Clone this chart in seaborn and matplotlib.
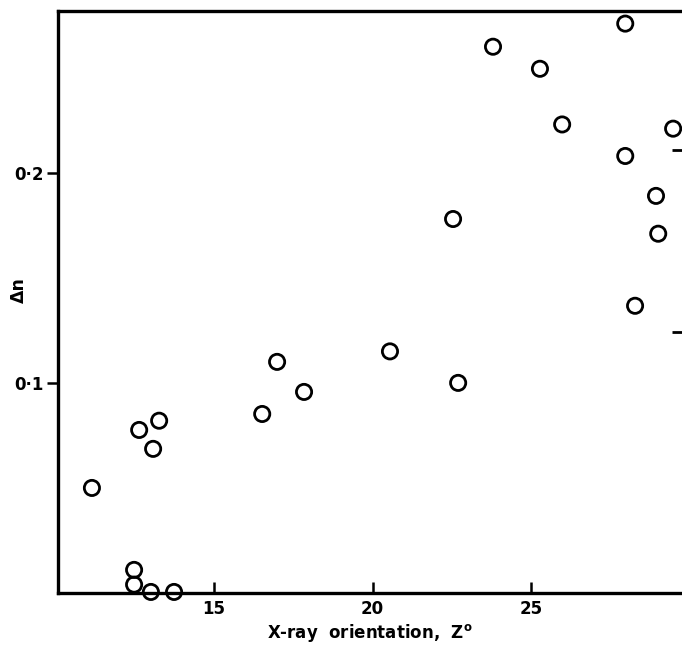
import matplotlib
matplotlib.use("Agg")
import matplotlib.pyplot as plt
import seaborn as sns
import pandas as pd

orientation = [11.15, 12.48, 12.48, 13.01, 13.74, 12.64, 13.08, 13.27, 16.52, 16.99,
               17.84, 20.55, 22.70, 22.54, 23.80, 25.28, 25.98, 27.97, 27.97, 28.94,
               29.01, 28.28, 29.48]
delta_n = [0.050, 0.011, 0.004, 0.0005, 0.0005, 0.0776, 0.0686, 0.082, 0.0852, 0.110,
           0.0957, 0.115, 0.100, 0.178, 0.260, 0.2495, 0.223, 0.271, 0.208, 0.189,
           0.171, 0.1367, 0.221]
x_ticks = [15, 20, 25]
x_tick_labels = ["15", "20", "25"]
y_ticks = [0.1, 0.2]
y_tick_labels = ["0·1", "0·2"]
right_ticks = [0.124, 0.211]

df = pd.DataFrame({"Z": orientation, "dn": delta_n})

sns.set_style("ticks")
plt.rcParams['font.family'] = ['DejaVu Sans']
plt.rcParams['font.weight'] = 'bold'
plt.rcParams['text.color'] = 'black'
plt.rcParams['axes.labelcolor'] = 'black'
plt.rcParams['xtick.color'] = 'black'
plt.rcParams['ytick.color'] = 'black'

fig = plt.figure(figsize=(6.82, 6.5), dpi=100)
ax = fig.add_axes([58/682, 57/650, 1 - 58/682, (593-11)/650])

sns.scatterplot(data=df, x="Z", y="dn", ax=ax, marker="o", s=120,
                facecolor="none", edgecolor="black", linewidth=2.0, clip_on=False)

ax.set_xlim(10.08, 29.76)
ax.set_ylim(0.0, 0.277)
ax.set_xticks(x_ticks)
ax.set_xticklabels(x_tick_labels, fontsize=12, fontweight='bold')
ax.set_yticks(y_ticks)
ax.set_yticklabels(y_tick_labels, fontsize=12, fontweight='bold')
ax.tick_params(axis='x', direction='in', length=8, width=1.8, pad=5)
ax.tick_params(axis='y', direction='out', length=8, width=1.8, pad=2)

for side in ['left', 'bottom', 'top']:
    ax.spines[side].set_linewidth(2.4)
    ax.spines[side].set_color('black')
ax.spines['right'].set_visible(False)

sec = ax.secondary_yaxis('right')
sec.set_yticks(right_ticks)
sec.set_yticklabels([])
sec.tick_params(direction='in', length=7, width=2.0)
sec.spines['right'].set_visible(False)

ax.set_xlabel("X-ray  orientation,  Z$^{\\mathbf{o}}$", fontsize=12, fontweight='bold', labelpad=3)
ax.set_ylabel("Δn", fontsize=12.5, fontweight='bold')
ax.yaxis.set_label_coords(-0.048, 0.52)

fig.savefig("out.png", dpi=100)
